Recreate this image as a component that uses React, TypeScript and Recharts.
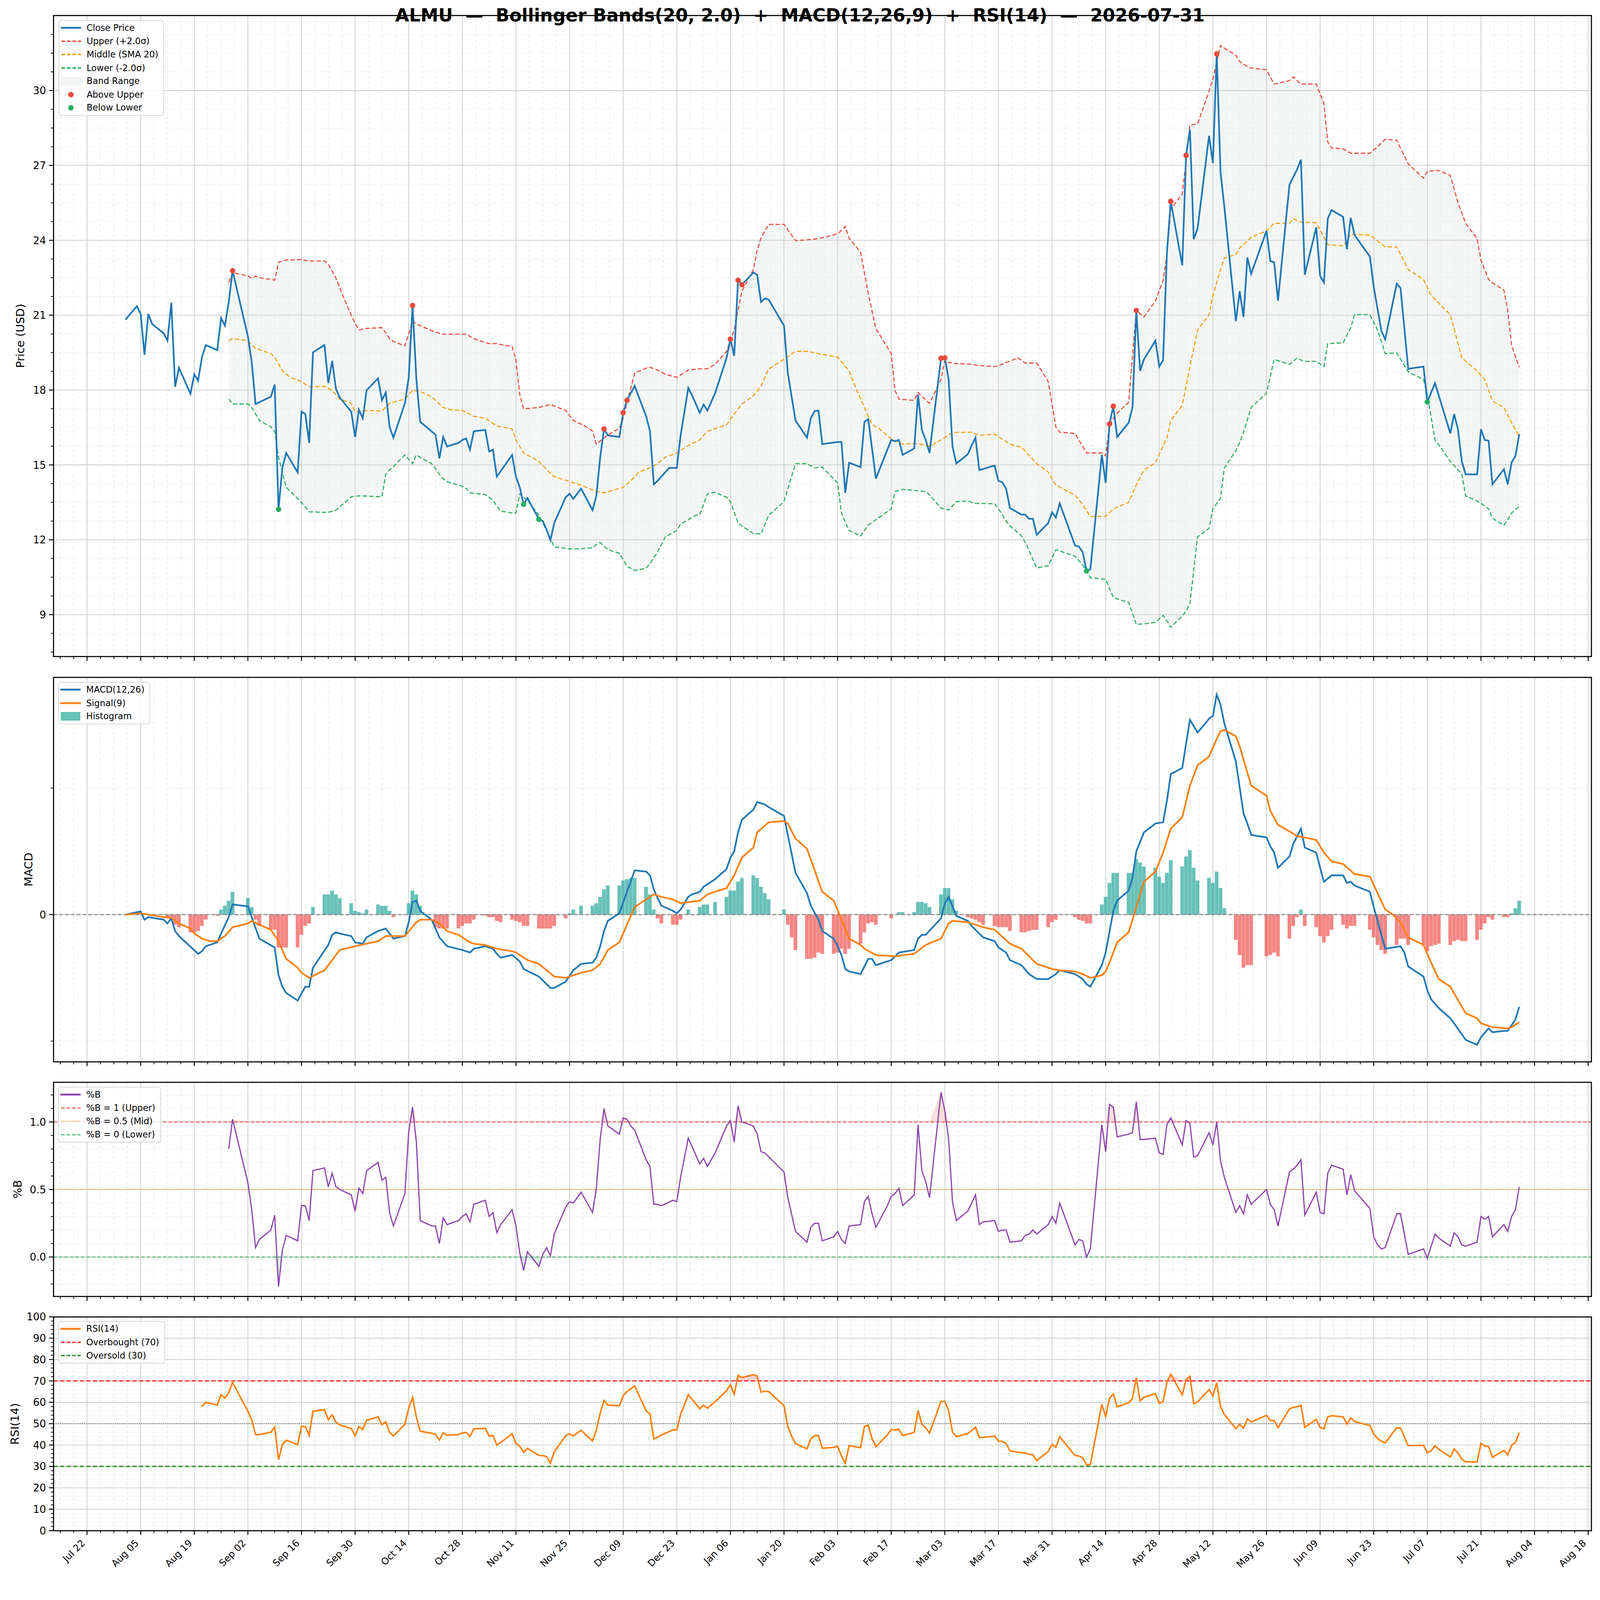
import React from "react";
import {
  ComposedChart,
  Line,
  Area,
  Bar,
  Cell,
  Scatter,
  XAxis,
  YAxis,
  ReferenceLine,
} from "recharts";

type Pt = [number, number];

// x values are trading days, counted in calendar days from 2025-07-22
const closePrice: Pt[] = [
  [10, 20.82], [13, 21.36], [14, 21.05], [15, 19.41], [16, 21.05], [17, 20.65], [20, 20.27], [21, 19.98],
  [22, 21.5], [23, 18.13], [24, 18.89], [27, 17.85], [28, 18.63], [29, 18.37], [30, 19.32], [31, 19.8],
  [34, 19.6], [35, 20.88], [36, 20.58], [37, 21.53], [38, 22.78], [42, 20.15], [43, 19.11], [44, 17.44],
  [48, 17.73], [49, 18.22], [50, 13.22], [51, 14.88], [52, 15.48], [55, 14.7], [56, 17.13], [57, 17.04],
  [58, 15.88], [59, 19.51], [62, 19.8], [63, 18.28], [64, 19.17], [65, 18.04], [66, 17.7], [69, 17.13],
  [70, 16.12], [71, 17.21], [72, 16.87], [73, 17.99], [76, 18.47], [77, 17.59], [78, 17.9], [79, 16.52],
  [80, 16.09], [83, 17.47], [84, 18.51], [85, 21.39], [86, 18.42], [87, 16.73], [91, 16.21], [92, 15.26],
  [93, 16.12], [94, 15.74], [97, 15.88], [98, 16.0], [99, 16.06], [100, 15.61], [101, 16.35], [104, 16.4],
  [105, 15.54], [106, 15.61], [107, 14.53], [111, 15.4], [112, 14.53], [113, 14.1], [114, 13.42], [115, 13.67],
  [118, 12.82], [119, 12.75], [120, 12.41], [121, 11.98], [122, 12.67], [125, 13.71], [126, 13.84], [127, 13.64],
  [129, 14.05], [132, 13.19], [133, 13.76], [134, 15.31], [135, 16.44], [136, 16.18], [139, 16.12], [140, 17.09],
  [141, 17.59], [143, 18.16], [146, 16.95], [147, 16.35], [148, 14.22], [149, 14.36], [152, 14.88], [154, 14.88],
  [155, 16.18], [157, 18.08], [158, 17.78], [160, 17.09], [161, 17.42], [162, 17.18], [164, 17.87], [167, 19.29],
  [168, 20.04], [169, 19.37], [170, 22.4], [171, 22.22], [174, 22.71], [175, 22.62], [176, 21.53], [177, 21.67],
  [178, 21.62], [182, 20.58], [183, 18.68], [185, 16.78], [188, 16.09], [189, 16.87], [190, 17.16], [191, 17.18],
  [192, 15.83], [196, 15.92], [197, 15.92], [198, 13.88], [199, 15.09], [202, 14.91], [203, 16.73], [204, 16.83],
  [206, 14.45], [210, 16.0], [211, 15.95], [212, 16.0], [213, 15.4], [216, 15.66], [217, 17.82], [218, 16.4],
  [219, 16.0], [220, 15.48], [223, 19.27], [224, 19.29], [225, 18.42], [226, 15.74], [227, 15.05], [230, 15.43],
  [231, 15.78], [232, 16.09], [233, 14.79], [236, 14.93], [237, 14.97], [238, 14.36], [239, 14.31], [240, 14.05],
  [241, 13.27], [244, 13.01], [245, 13.01], [246, 12.84], [247, 12.84], [248, 12.2], [251, 12.67], [252, 13.1],
  [253, 12.89], [254, 13.46], [258, 11.77], [259, 11.73], [260, 11.51], [261, 10.75], [262, 10.82], [265, 15.4],
  [266, 14.28], [267, 16.64], [268, 17.35], [269, 16.12], [272, 16.69], [273, 17.3], [274, 21.19], [275, 18.77],
  [276, 19.23], [279, 19.98], [280, 18.94], [281, 19.2], [282, 23.52], [283, 25.56], [286, 23.0], [287, 27.4],
  [288, 28.44], [289, 24.04], [290, 24.47], [293, 28.19], [294, 27.1], [295, 31.47], [296, 26.72], [297, 25.33],
  [300, 20.76], [301, 21.96], [302, 20.93], [303, 23.31], [304, 22.66], [308, 24.38], [309, 23.17], [310, 23.12],
  [311, 21.58], [314, 26.23], [315, 26.54], [316, 26.84], [317, 27.24], [318, 22.62], [321, 24.52], [322, 22.57],
  [323, 22.31], [324, 24.87], [325, 25.21], [328, 24.94], [329, 23.64], [330, 24.9], [331, 24.21], [335, 23.35],
  [336, 22.14], [338, 20.37], [339, 20.03], [342, 22.26], [343, 22.09], [345, 18.85], [349, 18.94], [350, 17.52],
  [352, 18.28], [356, 16.26], [357, 17.04], [358, 16.43], [359, 15.14], [360, 14.62], [363, 14.62], [364, 16.43],
  [365, 16.0], [366, 15.97], [367, 14.22], [370, 14.83], [371, 14.22], [372, 15.1], [373, 15.35], [374, 16.23],
];

// day, upper band, lower band
const bollBands: [number, number, number][] = [
  [37, 22.31, 17.64], [38, 22.71, 17.44], [42, 22.57, 17.44], [43, 22.48, 17.3], [44, 22.57, 17.05], [45, 22.5, 16.78],
  [48, 22.43, 16.52], [49, 22.4, 16.35], [50, 23.12, 15.31], [52, 23.21, 14.1], [56, 23.23, 13.5], [58, 23.17, 13.12],
  [62, 23.17, 13.1], [63, 23.05, 13.1], [65, 22.48, 13.19], [67, 21.71, 13.45], [69, 21.0, 13.72], [70, 20.67, 13.74],
  [71, 20.41, 13.76], [73, 20.47, 13.75], [77, 20.5, 13.72], [78, 20.3, 14.62], [79, 20.06, 14.8], [80, 19.95, 14.93],
  [83, 19.77, 15.4], [85, 20.76, 15.05], [86, 20.65, 15.4], [87, 20.58, 15.3], [90, 20.38, 15.05], [91, 20.32, 14.85],
  [92, 20.28, 14.62], [93, 20.24, 14.45], [94, 20.24, 14.33], [98, 20.24, 14.14], [99, 20.24, 14.05], [100, 20.15, 13.88],
  [101, 20.06, 13.86], [104, 19.9, 13.81], [105, 19.86, 13.7], [106, 19.86, 13.58], [107, 19.86, 13.35], [108, 19.82, 13.15],
  [111, 19.75, 13.07], [112, 19.2, 13.07], [113, 17.82, 13.84], [114, 17.25, 13.7], [115, 17.26, 13.58], [118, 17.3, 12.98],
  [120, 17.38, 12.37], [121, 17.42, 12.05], [122, 17.36, 11.72], [125, 17.18, 11.65], [126, 16.98, 11.63], [127, 16.78, 11.63],
  [130, 16.56, 11.65], [132, 16.35, 11.68], [133, 15.83, 11.8], [134, 15.96, 11.89], [135, 16.09, 11.75], [136, 16.2, 11.6],
  [139, 16.47, 11.46], [140, 16.87, 11.2], [141, 17.5, 10.94], [143, 18.68, 10.77], [146, 18.88, 10.86], [147, 18.91, 11.05],
  [149, 18.8, 11.51], [151, 18.63, 12.12], [154, 18.51, 12.37], [155, 18.6, 12.63], [157, 18.8, 12.8], [159, 18.84, 12.98],
  [160, 18.85, 13.01], [162, 18.85, 13.84], [164, 19.03, 13.9], [167, 19.55, 13.7], [168, 19.98, 13.53], [169, 20.41, 13.1],
  [170, 21.2, 12.67], [171, 21.96, 12.55], [174, 22.83, 12.25], [175, 23.61, 12.24], [176, 24.1, 12.23], [178, 24.64, 12.98],
  [182, 24.64, 13.53], [185, 23.99, 15.05], [188, 24.02, 15.05], [190, 24.05, 14.88], [191, 24.07, 14.9], [192, 24.1, 14.91],
  [196, 24.26, 14.28], [197, 24.4, 13.07], [198, 24.56, 12.7], [199, 24.09, 12.37], [202, 23.52, 12.15], [204, 21.87, 12.58],
  [206, 20.46, 12.8], [210, 19.46, 13.24], [211, 17.98, 13.93], [212, 17.64, 13.98], [213, 17.62, 14.02], [216, 17.59, 13.98],
  [217, 17.9, 13.96], [219, 17.6, 13.93], [220, 17.47, 13.8], [223, 18.42, 13.27], [224, 19.2, 13.23], [225, 19.1, 13.19],
  [227, 19.06, 13.53], [230, 19.04, 13.55], [231, 19.03, 13.5], [232, 19.0, 13.46], [237, 18.94, 13.44], [238, 18.97, 13.24],
  [240, 19.11, 12.75], [241, 19.15, 12.55], [243, 19.29, 12.3], [244, 19.2, 12.15], [245, 19.08, 11.9], [248, 19.08, 10.87],
  [251, 18.34, 10.96], [253, 16.52, 11.6], [254, 16.31, 11.55], [258, 16.26, 11.34], [260, 15.74, 10.99], [261, 15.48, 10.75],
  [262, 15.48, 10.48], [265, 15.48, 10.43], [266, 15.36, 10.42], [267, 16.61, 10.05], [268, 16.85, 9.69], [269, 17.07, 9.63],
  [272, 17.51, 9.49], [274, 21.19, 8.61], [276, 20.93, 8.63], [279, 21.57, 8.69], [281, 22.4, 8.97], [282, 23.43, 8.75],
  [283, 25.25, 8.49], [286, 25.85, 8.95], [287, 27.2, 9.13], [288, 28.62, 9.44], [290, 28.67, 12.12], [293, 29.97, 12.46],
  [294, 30.47, 13.24], [296, 31.81, 13.67], [297, 31.7, 14.88], [300, 31.42, 15.57], [301, 31.16, 15.9], [302, 31.05, 16.3],
  [304, 30.9, 17.3], [308, 30.83, 17.87], [310, 30.26, 19.23], [314, 30.4, 19.03], [315, 30.55, 19.15], [316, 30.4, 19.29],
  [317, 30.26, 19.2], [318, 30.26, 19.15], [321, 30.26, 19.15], [323, 29.48, 18.94], [324, 27.93, 19.86], [325, 27.7, 19.87],
  [328, 27.67, 19.89], [330, 27.49, 20.5], [331, 27.49, 21.02], [335, 27.49, 21.02], [337, 27.75, 20.41], [339, 28.05, 19.46],
  [342, 28.01, 19.49], [345, 27.06, 18.73], [349, 26.49, 18.42], [350, 26.77, 17.8], [352, 26.79, 16.0], [353, 26.8, 15.8],
  [356, 26.6, 15.14], [358, 25.51, 14.8], [359, 25.1, 14.62], [360, 24.68, 13.76], [363, 24.07, 13.55], [364, 23.21, 13.46],
  [366, 22.43, 13.24], [367, 22.3, 12.86], [370, 22.0, 12.58], [371, 21.19, 12.8], [372, 19.8, 13.07], [374, 18.91, 13.33],
];

const bollMiddle: Pt[] = [
  [37, 19.98], [38, 20.06], [42, 19.98], [44, 19.67], [48, 19.46], [49, 19.32], [51, 18.77], [53, 18.51], [56, 18.34],
  [58, 18.13], [62, 18.15], [64, 17.99], [66, 17.64], [69, 17.47], [70, 17.13], [73, 17.18], [77, 17.16], [79, 17.47],
  [83, 17.64], [85, 17.99], [87, 17.94], [90, 17.73], [93, 17.3], [95, 17.21], [98, 17.18], [101, 16.95], [104, 16.87],
  [107, 16.56], [111, 16.44], [112, 16.0], [114, 15.48], [118, 15.14], [121, 14.66], [122, 14.53], [126, 14.33], [129, 14.19],
  [133, 13.93], [135, 13.88], [140, 14.1], [142, 14.36], [144, 14.71], [147, 14.88], [149, 15.05], [151, 15.31], [154, 15.48],
  [157, 15.78], [160, 16.0], [162, 16.35], [167, 16.61], [169, 17.04], [171, 17.44], [174, 17.77], [176, 18.16], [178, 18.85],
  [182, 19.23], [185, 19.55], [188, 19.55], [191, 19.46], [196, 19.32], [199, 18.77], [201, 17.99], [205, 16.61], [207, 16.44],
  [210, 16.04], [213, 15.83], [217, 15.86], [220, 15.74], [223, 16.0], [226, 16.3], [231, 16.31], [233, 16.18], [237, 16.23],
  [241, 15.83], [244, 15.71], [248, 15.05], [251, 14.71], [253, 14.19], [258, 13.79], [260, 13.41], [262, 12.93], [266, 12.94],
  [268, 13.24], [272, 13.5], [274, 14.19], [276, 14.79], [279, 15.09], [282, 16.09], [283, 16.78], [286, 17.39], [288, 18.94],
  [290, 20.41], [293, 21.02], [294, 21.79], [296, 22.83], [297, 23.29], [300, 23.43], [301, 23.69], [304, 24.12], [308, 24.38],
  [310, 24.68], [314, 24.68], [315, 24.87], [317, 24.73], [321, 24.7], [324, 23.83], [328, 23.78], [330, 24.24], [335, 24.21],
  [339, 23.74], [342, 23.74], [345, 22.83], [349, 22.43], [351, 21.79], [356, 21.02], [359, 19.29], [363, 18.77], [365, 18.42],
  [367, 17.56], [370, 17.3], [372, 16.69], [374, 16.14],
];

const aboveUpper: Pt[] = [
  [38, 22.78], [85, 21.39], [135, 16.44], [140, 17.09], [141, 17.59], [168, 20.04], [170, 22.4], [171, 22.22],
  [223, 19.27], [224, 19.29], [267, 16.64], [268, 17.35], [274, 21.19], [283, 25.56], [287, 27.4], [295, 31.47],
];
const belowLower: Pt[] = [[50, 13.22], [114, 13.42], [118, 12.82], [261, 10.75], [350, 17.52]];

const macdLine: Pt[] = [
  [10, 0], [14, 0.025], [15, -0.04], [16, -0.02], [20, -0.04], [21, -0.07], [22, -0.03], [23, -0.13], [24, -0.17],
  [29, -0.31], [30, -0.29], [31, -0.25], [34, -0.22], [35, -0.15], [37, -0.02], [38, 0.08], [42, 0.065], [45, -0.19],
  [49, -0.26], [50, -0.48], [51, -0.57], [52, -0.62], [55, -0.68], [57, -0.57], [58, -0.57], [59, -0.42], [63, -0.24],
  [64, -0.16], [65, -0.14], [66, -0.15], [69, -0.17], [70, -0.22], [72, -0.23], [73, -0.18], [76, -0.13], [78, -0.11],
  [80, -0.19], [83, -0.17], [84, -0.06], [85, 0.1], [86, 0.11], [87, 0.03], [90, -0.04], [92, -0.18], [94, -0.25],
  [98, -0.28], [100, -0.3], [101, -0.27], [104, -0.25], [106, -0.27], [107, -0.31], [108, -0.34], [111, -0.32],
  [113, -0.37], [114, -0.43], [118, -0.49], [120, -0.55], [121, -0.58], [122, -0.58], [125, -0.53], [127, -0.44],
  [129, -0.39], [132, -0.38], [133, -0.34], [134, -0.25], [135, -0.13], [136, -0.05], [139, 0.01], [143, 0.35],
  [146, 0.34], [147, 0.31], [148, 0.2], [149, 0.13], [150, 0.07], [153, 0.03], [154, 0.01], [155, 0.04], [157, 0.14],
  [158, 0.16], [160, 0.18], [161, 0.22], [164, 0.28], [167, 0.36], [168, 0.45], [169, 0.5], [170, 0.65], [171, 0.75],
  [174, 0.83], [175, 0.89], [177, 0.87], [178, 0.85], [182, 0.78], [185, 0.33], [188, 0.17], [189, 0.07], [191, -0.04],
  [192, -0.13], [195, -0.19], [196, -0.25], [197, -0.32], [198, -0.43], [199, -0.45], [202, -0.47], [204, -0.35],
  [205, -0.35], [206, -0.4], [210, -0.36], [212, -0.3], [216, -0.28], [217, -0.19], [218, -0.16], [219, -0.16],
  [223, -0.03], [224, 0.09], [225, 0.14], [227, -0.01], [230, -0.05], [231, -0.09], [233, -0.15], [234, -0.18],
  [237, -0.21], [238, -0.26], [240, -0.3], [241, -0.36], [244, -0.4], [246, -0.47], [248, -0.51], [251, -0.51],
  [252, -0.49], [253, -0.47], [254, -0.44], [258, -0.47], [260, -0.51], [261, -0.55], [262, -0.57], [265, -0.4],
  [266, -0.3], [268, 0.03], [269, 0.11], [272, 0.19], [273, 0.29], [274, 0.5], [276, 0.65], [279, 0.72], [281, 0.73],
  [282, 0.9], [283, 1.11], [286, 1.16], [288, 1.54], [290, 1.44], [292, 1.51], [293, 1.55], [294, 1.57], [295, 1.74],
  [296, 1.66], [297, 1.51], [300, 1.21], [302, 0.8], [303, 0.72], [304, 0.63], [308, 0.61], [309, 0.54], [310, 0.49],
  [311, 0.37], [314, 0.46], [315, 0.56], [317, 0.68], [318, 0.53], [321, 0.49], [322, 0.37], [323, 0.26], [325, 0.31],
  [328, 0.31], [329, 0.25], [330, 0.26], [331, 0.23], [335, 0.18], [336, 0.06], [338, -0.16], [339, -0.27], [343, -0.25],
  [344, -0.3], [345, -0.41], [349, -0.49], [350, -0.6], [351, -0.67], [353, -0.74], [356, -0.82], [357, -0.86],
  [360, -0.99], [363, -1.03], [364, -0.97], [366, -0.9], [367, -0.93], [370, -0.92], [371, -0.92], [373, -0.83], [374, -0.73],
];

const signalLine: Pt[] = [
  [10, 0], [14, 0.01], [16, 0], [20, -0.02], [22, -0.025], [24, -0.07], [27, -0.11], [28, -0.15], [30, -0.19],
  [32, -0.21], [34, -0.21], [36, -0.17], [38, -0.1], [42, -0.07], [43, -0.05], [45, -0.08], [48, -0.12], [50, -0.21],
  [52, -0.35], [55, -0.42], [56, -0.46], [58, -0.5], [62, -0.44], [66, -0.28], [70, -0.25], [73, -0.23], [76, -0.21],
  [78, -0.17], [83, -0.17], [86, -0.06], [87, -0.04], [90, -0.04], [92, -0.07], [94, -0.13], [97, -0.16], [100, -0.22],
  [101, -0.23], [104, -0.24], [107, -0.27], [111, -0.29], [112, -0.3], [115, -0.36], [118, -0.39], [122, -0.49],
  [125, -0.5], [129, -0.46], [132, -0.44], [134, -0.39], [136, -0.28], [139, -0.22], [143, 0.06], [146, 0.12],
  [148, 0.16], [149, 0.15], [150, 0.14], [153, 0.12], [155, 0.09], [160, 0.11], [162, 0.16], [167, 0.21], [169, 0.31],
  [171, 0.45], [174, 0.53], [175, 0.65], [178, 0.73], [182, 0.74], [183, 0.72], [185, 0.6], [188, 0.52], [192, 0.18],
  [195, 0.11], [199, -0.19], [202, -0.24], [203, -0.27], [206, -0.32], [211, -0.33], [216, -0.31], [219, -0.24],
  [223, -0.19], [225, -0.07], [226, -0.05], [230, -0.06], [234, -0.1], [237, -0.12], [241, -0.23], [244, -0.27],
  [248, -0.39], [251, -0.42], [252, -0.43], [254, -0.44], [258, -0.45], [260, -0.47], [262, -0.5], [265, -0.48],
  [266, -0.45], [267, -0.38], [269, -0.22], [272, -0.14], [273, -0.04], [276, 0.26], [279, 0.34], [281, 0.49],
  [283, 0.68], [286, 0.77], [288, 1.02], [290, 1.18], [293, 1.25], [294, 1.32], [295, 1.39], [296, 1.45], [297, 1.46],
  [300, 1.41], [301, 1.33], [304, 1.02], [308, 0.94], [309, 0.82], [311, 0.71], [315, 0.64], [316, 0.62], [318, 0.61],
  [321, 0.59], [323, 0.49], [325, 0.42], [328, 0.4], [331, 0.32], [335, 0.3], [337, 0.17], [339, 0.04], [341, 0],
  [343, -0.06], [345, -0.18], [349, -0.24], [351, -0.38], [353, -0.51], [356, -0.57], [360, -0.78], [363, -0.82],
  [364, -0.86], [367, -0.89], [371, -0.9], [372, -0.89], [374, -0.85],
];

const macdHist: Pt[] = [
  [21, -0.02], [22, -0.04], [23, -0.08], [24, -0.1], [27, -0.14], [28, -0.14], [29, -0.13], [30, -0.09], [31, -0.04],
  [34, -0.01], [35, 0.04], [36, 0.07], [37, 0.11], [38, 0.18], [42, 0.13], [43, 0.06], [44, -0.04], [45, -0.09],
  [48, -0.12], [49, -0.12], [50, -0.26], [51, -0.26], [52, -0.26], [55, -0.26], [56, -0.16], [57, -0.09], [58, -0.07],
  [59, 0.06], [62, 0.16], [63, 0.16], [64, 0.19], [65, 0.16], [66, 0.13], [69, 0.09], [70, 0.03], [71, 0.02], [72, 0.01],
  [73, 0.04], [76, 0.08], [77, 0.07], [78, 0.07], [79, 0.03], [80, -0.02], [84, 0.09], [85, 0.19], [86, 0.16], [87, 0.07],
  [91, -0.1], [92, -0.11], [93, -0.11], [94, -0.11], [97, -0.11], [98, -0.09], [99, -0.07], [100, -0.07], [101, -0.04],
  [104, -0.01], [105, -0.02], [106, -0.02], [107, -0.05], [108, -0.06], [111, -0.04], [112, -0.05], [113, -0.06],
  [114, -0.09], [115, -0.09], [118, -0.11], [119, -0.11], [120, -0.11], [121, -0.11], [122, -0.09], [125, -0.03],
  [126, 0.01], [127, 0.04], [129, 0.07], [132, 0.07], [133, 0.09], [134, 0.14], [135, 0.2], [136, 0.23], [139, 0.23],
  [140, 0.27], [141, 0.28], [142, 0.29], [143, 0.29], [146, 0.22], [147, 0.16], [148, 0.04], [149, -0.03], [150, -0.07],
  [153, -0.08], [154, -0.08], [155, -0.04], [157, 0.04], [160, 0.06], [161, 0.08], [162, 0.08], [164, 0.1], [167, 0.14],
  [168, 0.19], [169, 0.19], [170, 0.26], [171, 0.29], [174, 0.31], [175, 0.29], [176, 0.22], [177, 0.17], [178, 0.12],
  [182, 0.04], [183, -0.08], [184, -0.18], [185, -0.28], [188, -0.35], [189, -0.35], [190, -0.34], [191, -0.3],
  [192, -0.31], [195, -0.31], [196, -0.3], [197, -0.27], [198, -0.31], [199, -0.27], [202, -0.23], [203, -0.14],
  [204, -0.07], [205, -0.06], [206, -0.08], [210, -0.03], [212, 0.02], [213, 0.02], [216, 0.02], [217, 0.1], [218, 0.1],
  [219, 0.09], [220, 0.06], [223, 0.16], [224, 0.21], [225, 0.21], [226, 0.12], [227, 0.03], [230, -0.02], [231, -0.03],
  [232, -0.04], [233, -0.06], [234, -0.08], [237, -0.09], [238, -0.1], [239, -0.1], [240, -0.1], [241, -0.13],
  [244, -0.14], [245, -0.14], [246, -0.13], [247, -0.12], [248, -0.12], [251, -0.1], [252, -0.06], [253, -0.04],
  [258, -0.02], [259, -0.04], [260, -0.05], [261, -0.07], [262, -0.07], [265, 0.08], [266, 0.14], [267, 0.25],
  [268, 0.33], [269, 0.33], [272, 0.33], [273, 0.33], [274, 0.44], [275, 0.41], [276, 0.38], [279, 0.37], [280, 0.3],
  [281, 0.25], [282, 0.33], [283, 0.43], [286, 0.38], [287, 0.46], [288, 0.51], [289, 0.37], [290, 0.27], [293, 0.29],
  [294, 0.25], [295, 0.34], [296, 0.21], [297, 0.05], [300, -0.2], [301, -0.32], [302, -0.42], [303, -0.4], [304, -0.4],
  [308, -0.33], [309, -0.32], [310, -0.3], [311, -0.33], [314, -0.19], [315, -0.09], [316, -0.02], [317, 0.04],
  [318, -0.09], [321, -0.1], [322, -0.17], [323, -0.22], [324, -0.17], [325, -0.12], [328, -0.08], [329, -0.11],
  [330, -0.09], [331, -0.09], [335, -0.12], [336, -0.18], [337, -0.24], [338, -0.28], [339, -0.31], [342, -0.24],
  [343, -0.19], [344, -0.19], [345, -0.24], [349, -0.24], [350, -0.29], [351, -0.25], [352, -0.24], [353, -0.23],
  [356, -0.24], [357, -0.21], [358, -0.2], [359, -0.21], [360, -0.21], [363, -0.2], [364, -0.12], [365, -0.07],
  [366, -0.02], [367, -0.04], [370, -0.02], [371, -0.02], [372, 0.01], [373, 0.05], [374, 0.11],
];

const percentB: Pt[] = [
  [37, 0.8], [38, 1.02], [42, 0.55], [43, 0.35], [44, 0.07], [45, 0.13], [48, 0.2], [49, 0.31], [50, -0.22], [51, 0.05],
  [52, 0.16], [55, 0.12], [56, 0.38], [57, 0.38], [58, 0.27], [59, 0.64], [62, 0.66], [63, 0.52], [64, 0.62], [65, 0.52],
  [66, 0.5], [69, 0.46], [70, 0.34], [71, 0.51], [72, 0.47], [73, 0.64], [76, 0.7], [77, 0.57], [78, 0.59], [79, 0.33],
  [80, 0.23], [83, 0.47], [84, 0.93], [85, 1.11], [86, 0.85], [87, 0.27], [90, 0.23], [91, 0.23], [92, 0.1], [93, 0.29],
  [94, 0.24], [97, 0.27], [98, 0.3], [99, 0.32], [100, 0.26], [101, 0.39], [104, 0.42], [105, 0.3], [106, 0.33],
  [107, 0.18], [108, 0.24], [111, 0.35], [112, 0.23], [113, 0.03], [114, -0.1], [115, 0.04], [118, -0.07], [119, 0.02],
  [120, 0.07], [121, 0.01], [122, 0.17], [125, 0.37], [126, 0.41], [127, 0.4], [129, 0.48], [132, 0.33], [133, 0.51],
  [134, 0.87], [135, 1.1], [136, 0.97], [139, 0.91], [140, 1.03], [141, 1.02], [142, 0.97], [143, 0.94], [146, 0.72],
  [147, 0.67], [148, 0.39], [149, 0.39], [150, 0.38], [153, 0.42], [154, 0.41], [155, 0.59], [157, 0.88], [160, 0.69],
  [161, 0.73], [162, 0.67], [164, 0.77], [167, 0.97], [168, 1.01], [169, 0.85], [170, 1.12], [171, 1.0], [174, 0.97],
  [175, 0.91], [176, 0.78], [177, 0.77], [182, 0.63], [183, 0.44], [185, 0.19], [188, 0.11], [189, 0.22], [190, 0.25],
  [191, 0.25], [192, 0.12], [195, 0.15], [196, 0.19], [197, 0.13], [198, 0.1], [199, 0.23], [202, 0.24], [203, 0.41],
  [204, 0.45], [205, 0.32], [206, 0.22], [209, 0.38], [210, 0.45], [211, 0.47], [212, 0.51], [213, 0.38], [216, 0.46],
  [217, 0.98], [218, 0.64], [219, 0.56], [220, 0.44], [223, 1.22], [224, 1.08], [225, 0.87], [226, 0.41], [227, 0.27],
  [230, 0.34], [232, 0.46], [233, 0.24], [234, 0.26], [237, 0.27], [238, 0.19], [239, 0.2], [240, 0.2], [241, 0.11],
  [244, 0.12], [245, 0.16], [246, 0.17], [247, 0.2], [248, 0.17], [251, 0.24], [252, 0.3], [253, 0.25], [254, 0.4],
  [258, 0.09], [259, 0.13], [260, 0.12], [261, 0.0], [262, 0.06], [265, 0.98], [266, 0.78], [267, 1.13], [268, 1.11],
  [269, 0.89], [272, 0.91], [273, 0.92], [274, 1.15], [275, 0.87], [276, 0.87], [279, 0.88], [280, 0.77], [281, 0.76],
  [282, 0.98], [283, 1.03], [286, 0.83], [287, 1.01], [288, 0.99], [289, 0.74], [290, 0.75], [293, 0.92], [294, 0.83],
  [295, 1.0], [296, 0.71], [297, 0.59], [300, 0.33], [301, 0.38], [302, 0.32], [303, 0.46], [304, 0.39], [308, 0.5],
  [309, 0.39], [310, 0.35], [311, 0.23], [314, 0.63], [315, 0.65], [316, 0.68], [317, 0.72], [318, 0.31], [321, 0.48],
  [322, 0.33], [323, 0.32], [324, 0.62], [325, 0.68], [328, 0.65], [329, 0.46], [330, 0.61], [331, 0.49], [335, 0.36],
  [336, 0.15], [337, 0.09], [338, 0.06], [339, 0.07], [342, 0.32], [343, 0.32], [345, 0.02], [349, 0.06], [350, -0.01],
  [352, 0.17], [353, 0.14], [356, 0.08], [357, 0.18], [358, 0.15], [359, 0.09], [360, 0.08], [363, 0.11], [364, 0.3],
  [365, 0.28], [366, 0.3], [367, 0.15], [370, 0.24], [371, 0.19], [372, 0.3], [373, 0.35], [374, 0.52],
];

const rsi14: Pt[] = [
  [30, 57.9], [31, 60.0], [34, 58.7], [35, 63.6], [36, 61.9], [37, 64.6], [38, 69.3], [42, 55.8], [43, 51.8], [44, 44.8],
  [45, 44.9], [48, 46.0], [49, 48.4], [50, 33.1], [51, 40.2], [52, 42.3], [55, 40.2], [56, 48.8], [57, 48.6], [58, 44.6],
  [59, 55.8], [62, 56.6], [63, 51.8], [64, 54.1], [65, 50.7], [66, 49.4], [69, 47.7], [70, 44.4], [71, 48.6], [72, 47.3],
  [73, 51.6], [76, 53.2], [77, 49.5], [78, 50.9], [79, 45.9], [80, 44.2], [83, 49.7], [84, 57.4], [85, 62.3], [86, 53.0],
  [87, 46.5], [90, 45.5], [91, 45.0], [92, 42.3], [93, 45.7], [94, 44.6], [97, 44.9], [98, 45.7], [99, 45.9], [100, 44.0],
  [101, 47.6], [104, 47.8], [105, 44.2], [106, 44.4], [107, 40.0], [108, 41.2], [111, 45.2], [112, 40.8], [113, 39.5],
  [114, 36.6], [115, 38.4], [118, 35.1], [119, 35.1], [120, 34.6], [121, 31.5], [122, 36.8], [125, 44.4], [126, 45.2],
  [127, 44.3], [129, 46.9], [132, 41.9], [133, 46.9], [134, 55.0], [135, 60.8], [136, 58.7], [139, 58.4], [140, 63.0],
  [141, 65.0], [143, 67.7], [146, 56.0], [147, 54.5], [148, 42.8], [150, 44.7], [153, 47.1], [154, 47.1], [155, 54.3],
  [157, 63.5], [160, 57.0], [161, 58.6], [162, 57.2], [164, 60.3], [167, 65.4], [168, 68.3], [169, 63.7], [170, 72.6],
  [171, 71.6], [174, 72.9], [175, 72.3], [176, 64.7], [177, 65.2], [178, 65.0], [182, 58.4], [183, 48.5], [184, 44.2],
  [185, 40.7], [188, 38.2], [189, 42.9], [190, 44.4], [191, 44.4], [192, 38.5], [195, 38.9], [196, 39.5], [197, 34.9],
  [198, 31.5], [199, 39.7], [202, 38.8], [203, 48.7], [204, 49.3], [205, 43.0], [206, 39.2], [209, 44.7], [210, 47.3],
  [211, 47.0], [212, 47.4], [213, 44.4], [216, 45.9], [217, 56.2], [218, 49.8], [219, 48.1], [220, 45.6], [223, 60.4],
  [224, 60.4], [225, 56.1], [226, 46.1], [227, 43.9], [230, 45.4], [231, 46.8], [232, 48.3], [233, 43.5], [234, 43.6],
  [237, 44.2], [238, 41.8], [239, 41.7], [240, 40.7], [241, 37.3], [244, 36.4], [245, 36.3], [246, 35.6], [247, 35.5],
  [248, 32.7], [251, 37.0], [252, 40.3], [253, 39.0], [254, 43.9], [258, 35.1], [259, 34.9], [260, 34.0], [261, 30.7],
  [262, 30.9], [265, 59.1], [266, 53.3], [267, 61.8], [268, 63.9], [269, 57.9], [272, 59.8], [273, 61.8], [274, 71.4],
  [275, 60.7], [276, 62.4], [279, 64.0], [280, 59.5], [281, 60.4], [282, 69.4], [283, 73.1], [286, 63.5], [287, 70.6],
  [288, 72.1], [289, 59.3], [290, 60.2], [293, 65.9], [294, 63.0], [295, 69.1], [296, 57.9], [297, 54.3], [300, 47.6],
  [301, 49.7], [302, 47.9], [303, 52.2], [304, 50.8], [308, 53.9], [309, 51.5], [310, 51.5], [311, 48.1], [314, 56.9],
  [315, 57.6], [316, 57.9], [317, 58.6], [318, 48.3], [321, 52.0], [322, 48.3], [323, 47.6], [324, 53.1], [325, 53.7],
  [328, 53.2], [329, 49.8], [330, 52.7], [331, 51.0], [335, 49.1], [336, 45.2], [337, 43.0], [338, 41.8], [339, 41.0],
  [342, 48.1], [343, 47.9], [345, 39.7], [349, 39.9], [350, 36.4], [351, 37.3], [352, 39.7], [353, 38.0], [356, 34.4],
  [357, 38.1], [358, 36.3], [359, 33.4], [360, 32.1], [363, 32.1], [364, 40.8], [365, 39.5], [366, 39.3], [367, 34.3],
  [370, 37.5], [371, 35.4], [372, 39.9], [373, 41.2], [374, 45.8],
];

// x ticks: every 14 days from Jul 22, 2025
const X_MAJOR = [0, 14, 28, 42, 56, 70, 84, 98, 112, 126, 140, 154, 168, 182, 196, 210, 224, 238, 252, 266, 280, 294, 308, 322, 336, 350, 364, 378, 392];
const MONTHS = ["Jan", "Feb", "Mar", "Apr", "May", "Jun", "Jul", "Aug", "Sep", "Oct", "Nov", "Dec"];
const BASE = Date.UTC(2025, 6, 22);

const TITLE = "ALMU  —  Bollinger Bands(20, 2.0)  +  MACD(12,26,9)  +  RSI(14)  —  2026-07-31";

// ---- layout ----
const W = 4378;
const H = 4322;
const FONT = "DejaVu Sans";
const PLOT_L = 146;
const PLOT_R = 4354;
const PAD_TOP = 26;
const X_DOMAIN: [number, number] = [-8.8, 392.8];

const X_TICKS: number[] = [-7, -3.5];
X_MAJOR.forEach((m) => {
  [0, 3.5, 7, 10.5].forEach((o) => {
    if (m + o <= 392) X_TICKS.push(m + o);
  });
});
const isMajorX = (v: number) => X_MAJOR.some((m) => Math.abs(m - v) < 1e-6);

function dayLabel(d: number) {
  const dt = new Date(BASE + d * 86400000);
  return `${MONTHS[dt.getUTCMonth()]} ${String(dt.getUTCDate()).padStart(2, "0")}`;
}

function steps(from: number, to: number, step: number) {
  const out: number[] = [];
  for (let i = 0; from + i * step <= to + 1e-9; i++) out.push(+(from + i * step).toFixed(4));
  return out;
}

type PanelDef = {
  top: number;
  bottom: number;
  domain: [number, number];
  yMajor: number[];
  yMinor: number[];
  fmt: (v: number) => string;
  xh: number;
  labels: boolean;
};

const P_PRICE: PanelDef = {
  top: 42.5, bottom: 1796, domain: [7.32, 33.0],
  yMajor: [9, 12, 15, 18, 21, 24, 27, 30], yMinor: steps(7.5, 32.9, 0.75),
  fmt: (v) => String(v), xh: 24, labels: false,
};
const P_MACD: PanelDef = {
  top: 1853, bottom: 2905, domain: [-1.163, 1.877],
  yMajor: [0], yMinor: [-1, 1],
  fmt: () => "0", xh: 24, labels: false,
};
const P_PCTB: PanelDef = {
  top: 2961.5, bottom: 3547, domain: [-0.292, 1.292],
  yMajor: [0, 0.5, 1], yMinor: steps(-0.2, 1.2, 0.1),
  fmt: (v) => v.toFixed(1), xh: 24, labels: false,
};
const P_RSI: PanelDef = {
  top: 3603, bottom: 4188, domain: [0, 100],
  yMajor: steps(0, 100, 10), yMinor: steps(0, 100, 2),
  fmt: (v) => String(Math.round(v)), xh: 130, labels: true,
};

const isIn = (list: number[], v: number) => list.some((m) => Math.abs(m - v) < 1e-6);

function mergeRows(series: Record<string, Pt[]>) {
  const map = new Map<number, any>();
  Object.entries(series).forEach(([key, pts]) => {
    pts.forEach(([d, v]) => {
      const row = map.get(d) ?? { d };
      row[key] = v;
      map.set(d, row);
    });
  });
  return Array.from(map.values()).sort((a, b) => a.d - b.d);
}

function XTick(props: any) {
  const { x, y, payload, showLabel } = props;
  const v = payload.value as number;
  const major = isMajorX(v);
  const ax = x - 4;
  const ay = y + 36;
  return (
    <g>
      <line x1={x} x2={x} y1={y} y2={y + (major ? 12 : 7)} stroke="#000" strokeWidth={major ? 2.6 : 2} />
      {showLabel && major ? (
        <text x={ax} y={ay} transform={`rotate(-45 ${ax} ${ay})`} textAnchor="end" fontSize={26} fontFamily={FONT} fill="#000">
          {dayLabel(v)}
        </text>
      ) : null}
    </g>
  );
}

function YTick(props: any) {
  const { x, y, payload, panel } = props;
  const v = payload.value as number;
  const p = panel as PanelDef;
  const major = isIn(p.yMajor, v);
  return (
    <g>
      <line x1={x} x2={x - (major ? 12 : 7)} y1={y} y2={y} stroke="#000" strokeWidth={major ? 2.6 : 2} />
      {major ? (
        <text x={x - 20} y={y} dy="0.36em" textAnchor="end" fontSize={28} fontFamily={FONT} fill="#000">
          {p.fmt(v)}
        </text>
      ) : null}
    </g>
  );
}

function axes(p: PanelDef, withTicks: boolean) {
  const yTicks = Array.from(new Set([...p.yMinor, ...p.yMajor])).sort((a, b) => a - b);
  return [
    <XAxis
      key="x"
      dataKey="d"
      type="number"
      domain={X_DOMAIN}
      allowDataOverflow
      ticks={X_TICKS}
      interval={0}
      height={p.xh}
      axisLine={false}
      tickLine={false}
      tickSize={0}
      tickMargin={0}
      tick={withTicks ? (t: any) => <XTick {...t} showLabel={p.labels} /> : false}
    />,
    <YAxis
      key="y"
      type="number"
      domain={p.domain}
      allowDataOverflow
      ticks={yTicks}
      interval={0}
      width={PLOT_L}
      axisLine={false}
      tickLine={false}
      tickSize={0}
      tickMargin={0}
      tick={withTicks ? (t: any) => <YTick {...t} panel={p} /> : false}
    />,
  ];
}

function gridLines(p: PanelDef) {
  const out: React.ReactNode[] = [];
  X_TICKS.forEach((v) => {
    const major = isMajorX(v);
    out.push(
      <ReferenceLine
        key={`gx${v}`}
        x={v}
        stroke={major ? "#cfcfcf" : "#e3e3e3"}
        strokeWidth={major ? 2.2 : 1.6}
        strokeDasharray={major ? undefined : "7 7"}
      />
    );
  });
  p.yMinor.forEach((v) => {
    if (isIn(p.yMajor, v)) return;
    out.push(<ReferenceLine key={`gy${v}`} y={v} stroke="#e3e3e3" strokeWidth={1.6} strokeDasharray="2 3" />);
  });
  p.yMajor.forEach((v) => {
    out.push(<ReferenceLine key={`gY${v}`} y={v} stroke="#cfcfcf" strokeWidth={2.2} />);
  });
  return out;
}

function chartBox(p: PanelDef) {
  return {
    top: p.top - PAD_TOP,
    width: W,
    height: p.bottom - p.top + PAD_TOP + p.xh,
    margin: { top: PAD_TOP, right: W - PLOT_R, bottom: 0, left: 0 },
  };
}

function Layer({ p, children }: { p: PanelDef; children: React.ReactNode }) {
  const b = chartBox(p);
  return <div style={{ position: "absolute", left: 0, top: b.top, width: b.width, height: b.height }}>{children}</div>;
}

function Frame({ p }: { p: PanelDef }) {
  return (
    <div
      style={{
        position: "absolute",
        left: PLOT_L - 1.5,
        top: p.top - 1.5,
        width: PLOT_R - PLOT_L + 3,
        height: p.bottom - p.top + 3,
        border: "3px solid #000",
        boxSizing: "border-box",
        pointerEvents: "none",
      }}
    />
  );
}

type LegendItem = { label: string; kind: "line" | "dash" | "dot" | "rect" | "circle"; color: string; opacity?: number; width?: number };

function LegendBox({ left, top, items }: { left: number; top: number; items: LegendItem[] }) {
  return (
    <div
      style={{
        position: "absolute",
        left,
        top,
        padding: "1px 14px 1px 4px",
        background: "rgba(255,255,255,0.82)",
        border: "2px solid #d4d4d4",
        borderRadius: 8,
        fontFamily: FONT,
        fontSize: 24,
        color: "#000",
      }}
    >
      {items.map((it) => (
        <div key={it.label} style={{ display: "flex", alignItems: "center", height: 36.5 }}>
          <svg width={56} height={26} style={{ flex: "none" }}>
            {it.kind === "line" && <line x1={0} x2={56} y1={13} y2={13} stroke={it.color} strokeWidth={it.width ?? 5} />}
            {it.kind === "dash" && (
              <line x1={2} x2={56} y1={13} y2={13} stroke={it.color} strokeOpacity={it.opacity ?? 1} strokeWidth={it.width ?? 4} strokeDasharray="10 5" />
            )}
            {it.kind === "dot" && (
              <line x1={2} x2={56} y1={13} y2={13} stroke={it.color} strokeOpacity={it.opacity ?? 1} strokeWidth={4} strokeDasharray="3 3" />
            )}
            {it.kind === "rect" && (
              <rect x={2} y={2} width={52} height={22} fill={it.color} fillOpacity={it.opacity ?? 1} stroke={it.color} strokeOpacity={(it.opacity ?? 1) * 1.4} />
            )}
            {it.kind === "circle" && <circle cx={28} cy={13} r={7.5} fill={it.color} />}
          </svg>
          <span style={{ marginLeft: 15, whiteSpace: "pre" }}>{it.label}</span>
        </div>
      ))}
    </div>
  );
}

function YLabel({ x, y, text }: { x: number; y: number; text: string }) {
  return (
    <div
      style={{
        position: "absolute",
        left: x,
        top: y,
        transform: "translate(-50%, -50%) rotate(-90deg)",
        fontFamily: FONT,
        fontSize: 31,
        whiteSpace: "nowrap",
        color: "#000",
      }}
    >
      {text}
    </div>
  );
}

const BLUE = "#1f77b4";
const ORANGE = "#ff7f0e";
const RED = "#e74c3c";
const AMBER = "#f39c12";
const GREEN = "#27ae60";
const PURPLE = "#8e44ad";

export default function App() {
  // the page is drawn at 4378x4322; fit it into whatever viewport the browser really has
  const vw = typeof window !== "undefined" ? window.innerWidth : W;
  const vh = typeof window !== "undefined" ? window.innerHeight : H;
  let s = Math.min(vw / W, vh / H);
  if (!isFinite(s) || s <= 0) s = 1;

  const bandRows = bollBands.map(([d, u, l]) => ({ d, band: [l, u] }));
  const priceRows = mergeRows({
    close: closePrice,
    middle: bollMiddle,
    upper: bollBands.map(([d, u]) => [d, u] as Pt),
    lower: bollBands.map(([d, , l]) => [d, l] as Pt),
  });
  const macdRows = mergeRows({ macd: macdLine, signal: signalLine });
  const histRows = macdHist.map(([d, v]) => ({ d, hist: v }));
  const pbRows = percentB.map(([d, v]) => ({ d, pb: v, over: [1, Math.max(v, 1)], under: [Math.min(v, 0), 0] }));
  const rsiRows = rsi14.map(([d, v]) => ({ d, rsi: v, over: [70, Math.max(v, 70)], under: [Math.min(v, 30), 30] }));

  const bp = chartBox(P_PRICE);
  const bm = chartBox(P_MACD);
  const bb = chartBox(P_PCTB);
  const br = chartBox(P_RSI);

  return (
    <div style={{ width: W * s, height: H * s, overflow: "hidden", background: "#fff" }}>
      <style>{"html,body{margin:0;padding:0;overflow:hidden;background:#fff}"}</style>
      <div
        style={{
          position: "relative",
          width: W,
          height: H,
          background: "#fff",
          overflow: "hidden",
          transform: `scale(${s})`,
          transformOrigin: "0 0",
        }}
      >
        {/* ---- price panel ---- */}
        <Layer p={P_PRICE}>
          <ComposedChart width={bp.width} height={bp.height} data={bandRows} margin={bp.margin}>
            {axes(P_PRICE, true)}
            {gridLines(P_PRICE)}
            <Area dataKey="band" stroke="none" fill="#95a5a6" fillOpacity={0.1} isAnimationActive={false} activeDot={false} />
          </ComposedChart>
        </Layer>
        <Layer p={P_PRICE}>
          <ComposedChart width={bp.width} height={bp.height} data={priceRows} margin={bp.margin}>
            {axes(P_PRICE, false)}
            <Line dataKey="upper" stroke={RED} strokeWidth={3} strokeDasharray="12 6" dot={false} activeDot={false} connectNulls isAnimationActive={false} />
            <Line dataKey="middle" stroke={AMBER} strokeWidth={3} strokeDasharray="12 6" dot={false} activeDot={false} connectNulls isAnimationActive={false} />
            <Line dataKey="lower" stroke={GREEN} strokeWidth={3} strokeDasharray="12 6" dot={false} activeDot={false} connectNulls isAnimationActive={false} />
            <Line dataKey="close" stroke={BLUE} strokeWidth={4.6} dot={false} activeDot={false} connectNulls isAnimationActive={false} />
            <Scatter
              data={aboveUpper.map(([d, v]) => ({ d, v }))}
              dataKey="v"
              isAnimationActive={false}
              shape={(q: any) => <circle cx={q.cx} cy={q.cy} r={7.5} fill={RED} />}
            />
            <Scatter
              data={belowLower.map(([d, v]) => ({ d, v }))}
              dataKey="v"
              isAnimationActive={false}
              shape={(q: any) => <circle cx={q.cx} cy={q.cy} r={7.5} fill={GREEN} />}
            />
          </ComposedChart>
        </Layer>

        {/* ---- MACD panel ---- */}
        <Layer p={P_MACD}>
          <ComposedChart width={bm.width} height={bm.height} data={histRows} margin={bm.margin}>
            {axes(P_MACD, true)}
            {gridLines(P_MACD)}
          </ComposedChart>
        </Layer>
        <Layer p={P_MACD}>
          <ComposedChart width={bm.width} height={bm.height} data={histRows} margin={bm.margin}>
            {axes(P_MACD, false)}
            <Bar dataKey="hist" barSize={10} isAnimationActive={false}>
              {histRows.map((r, i) => (
                <Cell key={i} fill={r.hist >= 0 ? "#26a69a" : "#ef5350"} fillOpacity={0.7} />
              ))}
            </Bar>
          </ComposedChart>
        </Layer>
        <Layer p={P_MACD}>
          <ComposedChart width={bm.width} height={bm.height} data={macdRows} margin={bm.margin}>
            {axes(P_MACD, false)}
            <ReferenceLine y={0} stroke="#888" strokeWidth={2.8} strokeDasharray="10 6" />
            <Line dataKey="macd" stroke={BLUE} strokeWidth={4.6} dot={false} activeDot={false} connectNulls isAnimationActive={false} />
            <Line dataKey="signal" stroke={ORANGE} strokeWidth={4.6} dot={false} activeDot={false} connectNulls isAnimationActive={false} />
          </ComposedChart>
        </Layer>

        {/* ---- %B panel ---- */}
        <Layer p={P_PCTB}>
          <ComposedChart width={bb.width} height={bb.height} data={pbRows} margin={bb.margin}>
            {axes(P_PCTB, true)}
            {gridLines(P_PCTB)}
          </ComposedChart>
        </Layer>
        <Layer p={P_PCTB}>
          <ComposedChart width={bb.width} height={bb.height} data={pbRows} margin={bb.margin}>
            {axes(P_PCTB, false)}
            <Area dataKey="over" stroke="none" fill={RED} fillOpacity={0.18} isAnimationActive={false} activeDot={false} />
            <Area dataKey="under" stroke="none" fill={GREEN} fillOpacity={0.18} isAnimationActive={false} activeDot={false} />
            <ReferenceLine y={1} stroke={RED} strokeOpacity={0.7} strokeWidth={3.4} strokeDasharray="10 5" />
            <ReferenceLine y={0.5} stroke={AMBER} strokeOpacity={0.6} strokeWidth={3.4} strokeDasharray="3 3" />
            <ReferenceLine y={0} stroke={GREEN} strokeOpacity={0.7} strokeWidth={3.4} strokeDasharray="10 5" />
            <Line dataKey="pb" stroke={PURPLE} strokeWidth={3.3} dot={false} activeDot={false} isAnimationActive={false} />
          </ComposedChart>
        </Layer>

        {/* ---- RSI panel ---- */}
        <Layer p={P_RSI}>
          <ComposedChart width={br.width} height={br.height} data={rsiRows} margin={br.margin}>
            {axes(P_RSI, true)}
            {gridLines(P_RSI)}
          </ComposedChart>
        </Layer>
        <Layer p={P_RSI}>
          <ComposedChart width={br.width} height={br.height} data={rsiRows} margin={br.margin}>
            {axes(P_RSI, false)}
            <Area dataKey="over" stroke="none" fill="#ff0000" fillOpacity={0.18} isAnimationActive={false} activeDot={false} />
            <Area dataKey="under" stroke="none" fill="#008000" fillOpacity={0.18} isAnimationActive={false} activeDot={false} />
            <ReferenceLine y={50} stroke="#888" strokeWidth={2.6} strokeDasharray="3 3" />
            <ReferenceLine y={70} stroke="#ff0000" strokeOpacity={0.8} strokeWidth={3.6} strokeDasharray="12 6" />
            <ReferenceLine y={30} stroke="#008000" strokeOpacity={0.8} strokeWidth={3.6} strokeDasharray="12 6" />
            <Line dataKey="rsi" stroke={ORANGE} strokeWidth={4.2} dot={false} activeDot={false} isAnimationActive={false} />
          </ComposedChart>
        </Layer>

        <Frame p={P_PRICE} />
        <Frame p={P_MACD} />
        <Frame p={P_PCTB} />
        <Frame p={P_RSI} />

        <LegendBox
          left={160}
          top={55}
          items={[
            { label: "Close Price", kind: "line", color: BLUE },
            { label: "Upper (+2.0σ)", kind: "dash", color: RED },
            { label: "Middle (SMA 20)", kind: "dash", color: AMBER },
            { label: "Lower (-2.0σ)", kind: "dash", color: GREEN },
            { label: "Band Range", kind: "rect", color: "#95a5a6", opacity: 0.12 },
            { label: "Above Upper", kind: "circle", color: RED },
            { label: "Below Lower", kind: "circle", color: GREEN },
          ]}
        />
        <LegendBox
          left={159}
          top={1866}
          items={[
            { label: "MACD(12,26)", kind: "line", color: BLUE },
            { label: "Signal(9)", kind: "line", color: ORANGE },
            { label: "Histogram", kind: "rect", color: "#26a69a", opacity: 0.7 },
          ]}
        />
        <LegendBox
          left={159}
          top={2974}
          items={[
            { label: "%B", kind: "line", color: PURPLE, width: 5 },
            { label: "%B = 1 (Upper)", kind: "dash", color: RED, opacity: 0.7 },
            { label: "%B = 0.5 (Mid)", kind: "dot", color: AMBER, opacity: 0.6 },
            { label: "%B = 0 (Lower)", kind: "dash", color: GREEN, opacity: 0.7 },
          ]}
        />
        <LegendBox
          left={159}
          top={3615}
          items={[
            { label: "RSI(14)", kind: "line", color: ORANGE },
            { label: "Overbought (70)", kind: "dash", color: "#ff0000", opacity: 0.8 },
            { label: "Oversold (30)", kind: "dash", color: "#008000", opacity: 0.8 },
          ]}
        />

        <YLabel x={55} y={(P_PRICE.top + P_PRICE.bottom) / 2} text="Price (USD)" />
        <YLabel x={78} y={(P_MACD.top + P_MACD.bottom) / 2} text="MACD" />
        <YLabel x={48} y={(P_PCTB.top + P_PCTB.bottom) / 2} text="%B" />
        <YLabel x={40} y={(P_RSI.top + P_RSI.bottom) / 2} text="RSI(14)" />

        <div
          style={{
            position: "absolute",
            left: 0,
            width: W,
            top: 18,
            textAlign: "center",
            fontFamily: FONT,
            fontWeight: "bold",
            fontSize: 49,
            lineHeight: "50px",
            whiteSpace: "pre",
            color: "#000",
          }}
        >
          {TITLE}
        </div>
      </div>
    </div>
  );
}
